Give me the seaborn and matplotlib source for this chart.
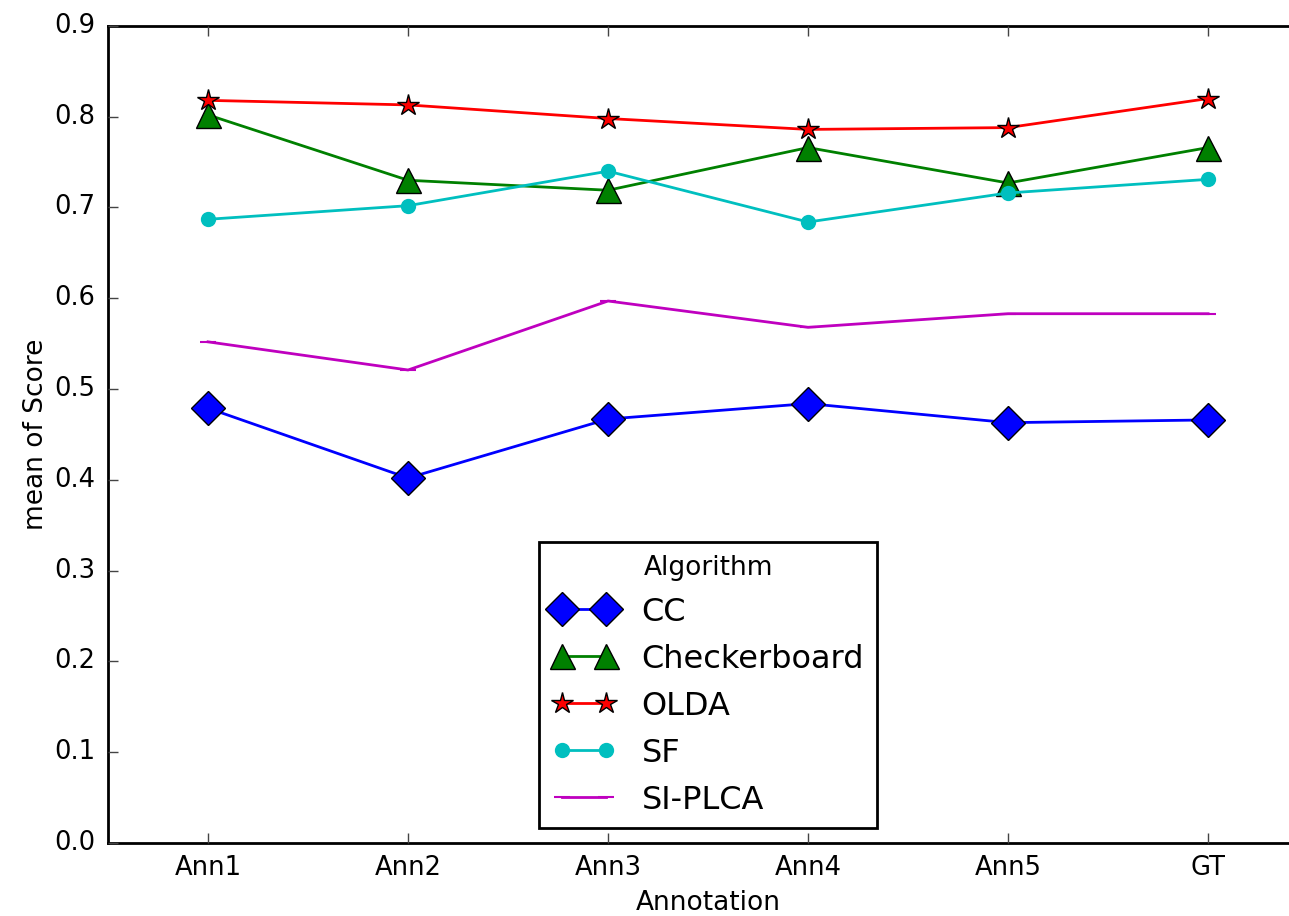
import pandas as pd
import numpy as np
import matplotlib
matplotlib.use("Agg")
import matplotlib.pyplot as plt
import seaborn as sns

# ---- data ----
annotations = ["Ann1", "Ann2", "Ann3", "Ann4", "Ann5", "GT"]
algorithms = ["CC", "Checkerboard", "OLDA", "SF", "SI-PLCA"]

cc_scores = [0.479, 0.402, 0.467, 0.484, 0.463, 0.466]
checker_scores = [0.802, 0.730, 0.719, 0.766, 0.727, 0.766]
olda_scores = [0.818, 0.813, 0.798, 0.786, 0.788, 0.820]
sf_scores = [0.687, 0.702, 0.740, 0.684, 0.716, 0.731]
siplca_scores = [0.552, 0.521, 0.597, 0.568, 0.583, 0.583]

series = [cc_scores, checker_scores, olda_scores, sf_scores, siplca_scores]
rows = []
for alg, vals in zip(algorithms, series):
    for ann, v in zip(annotations, vals):
        rows.append({"Annotation": ann, "Algorithm": alg, "Score": v})
df = pd.DataFrame(rows)

# ---- style ----
plt.style.use("classic")
plt.rcParams["font.family"] = ["DejaVu Sans"]

colors = {"CC": "#0000ff", "Checkerboard": "#008000", "OLDA": "#ff0000",
          "SF": "#00bfbf", "SI-PLCA": "#bf00bf"}
markers = ["D", "^", "*", "o", "_"]
msizes = [17.5, 18, 16, 9.5, 12]
edgecols = ["k", "k", "k", None, None]

fig = plt.figure(figsize=(12.89, 9.16), dpi=100, facecolor="white")
ax = fig.add_axes([0.0838, 0.0797, 0.931, 0.892])

sns.pointplot(data=df, x="Annotation", y="Score", hue="Algorithm",
              order=annotations, hue_order=algorithms, palette=colors,
              markers=markers, linestyles="-", errorbar=None, ax=ax)

handles = []
for line, alg, m, ms, ec in zip(ax.lines[:5], algorithms, markers, msizes, edgecols):
    line.set_linewidth(2)
    line.set_marker(m)
    line.set_markersize(ms)
    line.set_markerfacecolor(colors[alg])
    line.set_markeredgecolor(ec if ec else colors[alg])
    line.set_markeredgewidth(1 if ec else 1.5)
    handles.append(line)

if ax.get_legend() is not None:
    ax.get_legend().remove()

ax.set_xlim(-0.5, 5.5)
ax.set_ylim(0, 0.9)
ax.set_yticks(np.arange(0, 0.91, 0.1))
ax.set_yticklabels([f"{t:.1f}" for t in np.arange(0, 0.91, 0.1)])
ax.set_xlabel("Annotation", fontsize=19, labelpad=6)
ax.set_ylabel("mean of Score", fontsize=19, labelpad=4)
ax.tick_params(axis="both", which="major", labelsize=18.5, length=7,
               width=1, direction="in", pad=9, color="#444444")
for sp in ax.spines.values():
    sp.set_linewidth(2)

leg = ax.legend(handles=handles, labels=algorithms, title="Algorithm",
                loc="lower center", bbox_to_anchor=(0.5, 0.018),
                borderaxespad=0, numpoints=2, fontsize=23,
                title_fontsize=19, frameon=True, fancybox=False,
                handlelength=2.0, labelspacing=0.5)
leg.get_frame().set_edgecolor("black")
leg.get_frame().set_linewidth(2)

fig.savefig("out.png", dpi=100, facecolor="white")
